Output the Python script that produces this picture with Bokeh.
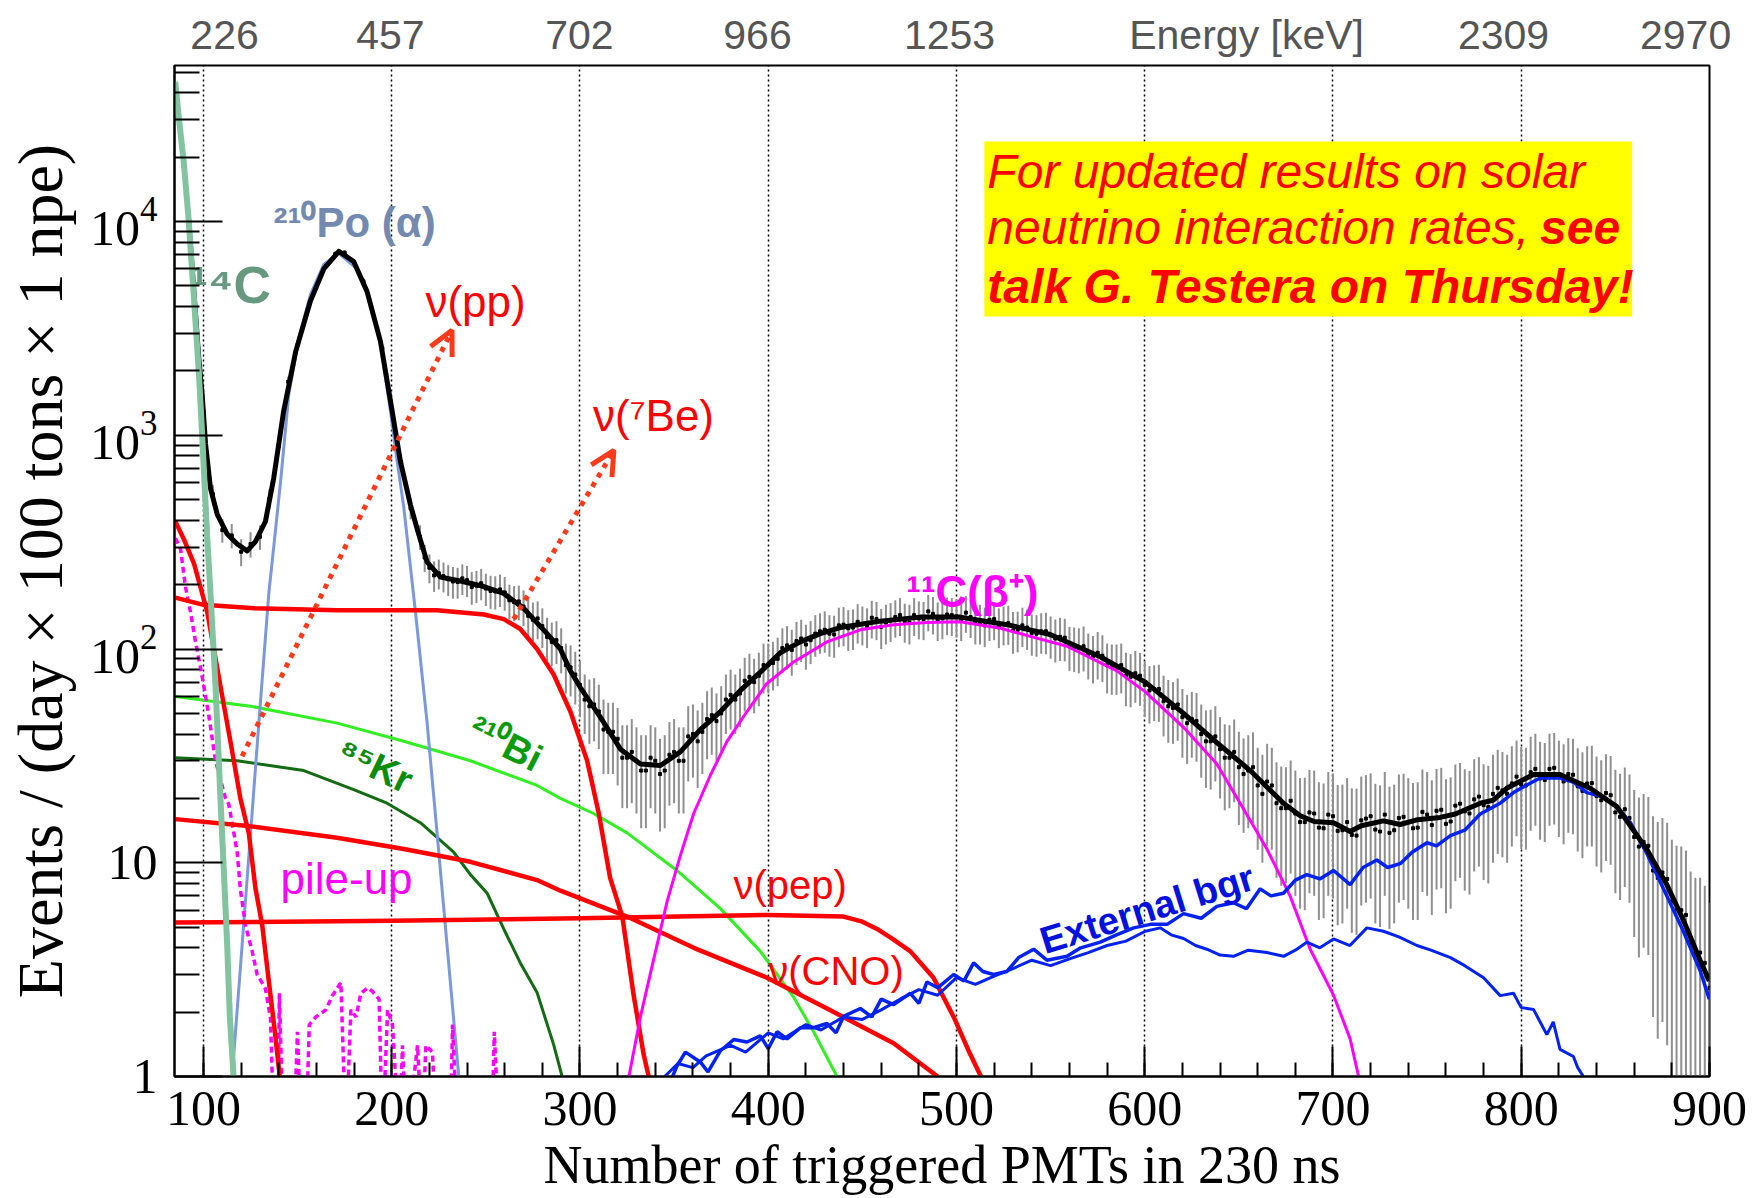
import math
from bokeh.plotting import figure
from bokeh.models import (Range1d, FixedTicker, LinearAxis, LogTickFormatter,
                          Arrow, OpenHead)
from bokeh.core.properties import value
from bokeh.embed import file_html
from bokeh.resources import INLINE

# ---------------- data ----------------
npmt = list(range(100, 901, 5))
events = [1300, 530, 360, 340, 285, 310, 335, 505, 890, 1780,
          2650, 3850, 5050, 6300, 7050, 7150, 6350, 5250, 3750, 2550,
          1330, 750, 455, 335, 240, 226, 212, 206, 210, 198,
          192, 186, 184, 166, 158, 137, 128, 108, 101, 82,
          68, 54, 51, 41, 38, 31, 30, 27, 30, 27,
          33, 30, 40, 41, 49, 50, 61, 62, 74, 75,
          84, 90, 104, 109, 105, 118, 123, 117, 130, 126,
          131, 140, 127, 136, 144, 133, 139, 150, 137, 145,
          142, 148, 133, 129, 138, 131, 122, 129, 119, 121,
          116, 114, 103, 101, 95, 96, 84, 83, 75, 77,
          68, 65, 57, 53, 48, 47, 40, 37, 34, 31,
          28, 27, 23, 24, 19, 18, 17, 15.5, 17, 14.5,
          16.5, 14.2, 13.5, 15.8, 16.5, 14, 13.8, 16.2, 15.5, 14.6,
          16.8, 17.5, 15.2, 18.5, 17.4, 19.8, 18.6, 21, 21.8, 23.5,
          23.2, 26.5, 24.8, 27.5, 25.2, 26, 22.8, 23.5, 20.5, 21.2,
          17.2, 17.8, 13.2, 12.5, 9.2, 9.0, 6.6, 6.0, 4.2, 3.8,
          2.6]
events_err = [87, 55, 46, 44, 41, 42, 44, 54, 72, 101,
              124, 149, 171, 190, 202, 203, 191, 174, 147, 121,
              88, 66, 51, 44, 37, 36, 35, 34, 35, 34,
              33, 33, 33, 31, 30, 28, 27, 25, 24, 22,
              20, 18, 17, 15, 15, 13, 13, 12.5, 13, 12.5,
              14, 13, 15, 15, 17, 17, 19, 19, 21, 21,
              22, 23, 24, 25, 25, 26, 27, 26, 27, 27,
              27, 28, 27, 28, 29, 28, 28, 29, 28, 29,
              29, 29, 28, 27, 28, 27, 27, 27, 26, 26,
              26, 26, 24, 24, 23, 24, 22, 22, 21, 21,
              20, 19, 18, 17, 17, 16, 15, 15, 14, 13,
              13, 12.5, 11.5, 12, 10.5, 10, 10, 9.5, 10, 9,
              9.7, 9, 8.8, 9.5, 9.7, 9, 8.9, 9.7, 9.4, 9.2,
              9.8, 10, 9.4, 10.3, 10, 10.7, 10.3, 11, 11.2, 11.6,
              11.6, 12.4, 12, 12.6, 12, 12.2, 11.5, 11.6, 10.9, 11,
              10, 10.1, 8.7, 8.5, 7.3, 7.2, 6.2, 5.9, 4.9, 4.7,
              3.9]

# intermediate bins (217.5 ... 897.5)
npmt_mid = [v + 2.5 for v in range(215, 896, 5)]
events_mid = [268, 221, 219, 207, 214, 195, 203, 187, 190, 169,
              167, 143, 139, 114, 110, 84, 76, 58, 55, 42,
              41, 31, 33, 27, 31, 26, 32, 30, 39, 37,
              47, 46, 58, 58, 71, 70, 84, 86, 101, 99,
              112, 110, 121, 118, 129, 125, 134, 128, 138, 133,
              141, 135, 144, 138, 146, 139, 144, 137, 141, 133,
              137, 128, 132, 123, 126, 118, 121, 112, 113, 102,
              103, 92, 93, 83, 84, 74, 75, 64, 65, 54,
              55, 45, 46, 37, 39, 31, 33, 26, 28, 21,
              23, 18, 19.5, 15.5, 17.2, 14.6, 16.8, 14.1, 15.5, 13.4,
              16.1, 14.3, 16.8, 14.2, 16.4, 14.5, 17.3, 15, 17.7, 15.6,
              18.9, 17, 20.4, 18.2, 22.4, 21, 25.3, 23, 27.5, 24.4,
              27.8, 24, 25.8, 21.7, 23.6, 19.6, 20.7, 16.4, 16.2, 11.9,
              12, 8.5, 8.4, 6.1, 5.7, 3.8, 3.4]
events_mid_err = [39, 36, 35, 35, 35, 34, 34, 33, 33, 31,
                  31, 29, 28, 26, 25, 22, 21, 18, 18, 16,
                  15, 13, 14, 12.5, 13, 12, 13.5, 13, 15, 14.6,
                  16.5, 16, 18, 18, 20, 20, 22, 22, 24, 24,
                  25, 25, 26, 26, 27, 27, 28, 27, 28, 28,
                  28, 28, 29, 28, 29, 28, 29, 28, 28.5, 28,
                  28, 27, 27.5, 26.5, 27, 26, 26.5, 25.5, 25.5, 24,
                  24.5, 23, 23, 22, 22, 20.6, 20.8, 19.2, 19.4, 17.6,
                  17.8, 16, 16.3, 14.6, 15, 13.4, 13.8, 12.2, 12.7, 11,
                  11.5, 10.2, 10.6, 9.4, 10, 9.2, 9.8, 9, 9.4, 8.8,
                  9.6, 9.1, 9.8, 9, 9.7, 9.1, 10, 9.3, 10.1, 9.5,
                  10.4, 9.9, 10.8, 10.2, 11.4, 11, 12, 11.5, 12.6, 11.9,
                  12.7, 11.8, 12.2, 11.2, 11.7, 10.6, 10.9, 9.7, 9.7, 8.3,
                  8.3, 7, 7, 5.9, 5.7, 4.7, 4.4]

fit_x = [92, 95, 97.5, 99.3, 101.1, 103.7, 107.3, 112.6, 117.9, 123.2, 127.6,
         132.9, 137.3, 142.6, 149, 156.8, 163.9, 171.9, 179.8, 186.9, 194,
         200.2, 204.6, 210, 214.3, 218.8, 225.9, 236.5, 248.9, 259.5, 270.1,
         282.5, 289.6, 294.9, 300.2, 310.8, 321.5, 332.1, 342.7, 353.3, 363.9,
         374.6, 385.2, 395.8, 406.4, 417, 427.7, 438.3, 459.5, 480.8, 502,
         526.8, 549.8, 576.4, 600.3, 620.6, 638.3, 656, 673.7, 682.6, 690,
         700.3, 709.1, 715, 726.8, 735.7, 745, 756.9, 765, 778.2, 785,
         792.3, 806.5, 820.6, 836.6, 850.8, 866.6, 877.3, 886.1, 895, 899.9]
fit_y = [10500, 4600, 2300, 1550, 910, 565, 427, 345, 310, 288, 318,
         395, 630, 1300, 2470, 4250, 6000, 7250, 6500, 4700, 2750,
         1300, 755, 470, 345, 255, 217, 208, 196, 182, 155,
         118, 100, 79, 66, 48, 34, 29, 28.5, 33, 42,
         51, 64, 78, 96, 108, 118, 126, 135, 141, 141,
         130, 117, 92, 70, 50, 36.5, 27, 19, 16.6, 15.6,
         15.4, 14, 14.9, 15.7, 15.1, 15.9, 16.3, 16.9, 19, 19.6,
         22.3, 25.9, 25.9, 22.3, 18.3, 11.6, 7.9, 5.4, 3.5, 2.8]

c14_x = [85, 87, 89.5, 92.2, 94.8, 97.5, 99.3, 102, 103.7, 106.4, 109, 110.8, 112.6, 114, 116]
c14_y = [45000, 30000, 19000, 10000, 4550, 2000, 1000, 330, 182, 67, 20, 9.2, 4.1, 1.9, 1.0]

po_x = [115.2, 120.5, 125, 129.4, 134.7, 140.9, 145.3, 150.6, 156.8, 163.9, 171.9,
        181.6, 188.7, 194, 199.3, 202.9, 206.4, 212.6, 218.8, 224.1, 229.4, 235.6]
po_y = [1, 4.1, 13.7, 45, 182, 600, 1550, 2850, 4550, 6300, 7100,
        6000, 4250, 2680, 1300, 755, 460, 149, 45, 13.7, 4.1, 1]

pp_x = [85, 90, 95, 102, 109, 114.3, 119.6, 124.1, 127.6, 131.2, 134.7, 138.2, 140.5]
pp_y = [396, 320, 250, 149, 67, 37, 20, 13.7, 7.6, 5.1, 2.8, 1.54, 1.0]

be7_x = [85, 100, 127, 171, 224, 249, 259.5, 268.3, 277.2, 286, 294.9, 303.8, 310, 316,
         322.5, 328.5, 333.8, 336.5]
be7_y = [174, 161, 155, 152, 152, 145, 138, 124, 100, 76, 51, 30, 17, 8.5,
         5.6, 2.4, 1.27, 1.0]

pep_x = [85, 200, 300, 400, 440, 450, 457.8, 466, 475.5, 487.8, 498.5, 507.3, 513]
pep_y = [5.25, 5.35, 5.5, 5.7, 5.6, 5.3, 4.9, 4.4, 3.85, 2.9, 1.9, 1.27, 1.0]

cno_x = [85, 125, 171, 206.4, 241.8, 277.2, 289.6, 325, 360.4, 399.3, 431.2, 466.6, 490]
cno_y = [16, 14.8, 13.1, 11.6, 10.1, 8.3, 7.4, 5.6, 4.0, 2.9, 2.08, 1.43, 1.0]

bi_x = [85, 125, 171, 206.4, 241.8, 277.2, 289.6, 307.2, 325, 351.5, 374.6, 395.8, 413.5, 424.1, 436.5]
bi_y = [60, 54, 45, 37, 30, 23, 20, 17, 13.8, 9.2, 6.1, 3.85, 2.35, 1.62, 1.0]

kr_x = [85, 117.9, 153.3, 179.8, 197.5, 215.2, 232.9, 241.8, 250.7, 259.5, 268.3, 277.2, 286, 290.5]
kr_y = [31, 30, 27, 22, 19, 15.4, 11.2, 8.8, 7.2, 4.9, 3.4, 2.47, 1.41, 1.0]

c11_x = [326, 332.1, 339.2, 346.3, 353.3, 360.4, 369.2, 378.1, 388.7, 399.3, 413.5, 431.2,
         448.9, 466.6, 484.3, 502, 523.3, 558.7, 585.2, 600.3, 620.6, 638.3, 650.7, 664.9,
         677.2, 687.9, 700.3, 709.1, 713.6]
c11_y = [1, 1.9, 3.55, 6.6, 10.8, 17, 25.6, 37, 51, 69, 87, 108,
         123, 130, 133, 134, 125, 103, 79, 63, 43, 29, 19, 11.6,
         7.0, 3.94, 2.4, 1.5, 1]

pileup_x = [85.1, 87.8, 90.4, 93.1, 95.8, 98.4, 100.2, 102.8, 106.4, 111.7,
            113.4, 115.2, 117.9, 119.6, 122.3, 125.9, 128.5, 132.9, 135.6, 137.5,
            139.5, 140.3, 142.5, 148, 149.9, 152, 154.4, 156.2, 159.7, 165,
            168.6, 173, 175.7, 178.3, 181, 183.6, 187.2, 189.8, 193.3, 195.1,
            197.8, 200.4, 204, 205.7, 208, 213.7, 216.3, 218.1, 221.6, 224,
            231, 232.3, 235, 253, 254.5, 257]
pileup_y = [330, 294, 196, 149, 108, 82, 67, 49, 30, 20,
            18.8, 15.4, 11.2, 7.5, 5.1, 3.84, 3.0, 2.58, 1.87, 0.5,
            0.5, 2.45, 0.5, 0.5, 1.62, 0.5, 0.5, 1.75, 1.9, 2.05,
            2.4, 2.75, 0.5, 2.05, 1.9, 2.45, 2.6, 2.5, 2.3, 0.5,
            2.05, 1.75, 0.5, 1.4, 0.5, 1.4, 0.5, 1.4, 1.3, 0.5,
            0.5, 1.75, 0.5, 0.5, 1.62, 0.5]

ext_x = [342.7, 347, 351.5, 356, 363.9, 368, 374.6, 381.7, 388.7, 395.8,
         400, 404.7, 410, 417, 424.1, 431.2, 436, 440, 448.9, 455,
         460, 466.6, 475.5, 480, 484.3, 490, 498.5, 504, 509.1, 514,
         519.7, 526.8, 533, 541, 548, 558.7, 566, 576.4, 585, 594.1,
         603, 611.9, 620.6, 630, 638.3, 647.1, 654, 661.3, 667, 673.7,
         680, 686.1, 693, 700.3, 709.1, 716, 723.3, 729, 735.7, 742,
         749.9, 755, 762.4, 770, 778.2, 788.8, 795.9, 803, 810, 820.6,
         828, 834.8, 842, 850.8, 858, 866.6, 877.3, 886.1, 895, 899.9]
ext_y = [1.0, 0.9, 1.12, 1.3, 1.17, 1.05, 1.32, 1.49, 1.45, 1.55,
         1.35, 1.62, 1.5, 1.69, 1.69, 1.77, 1.6, 1.91, 2.08, 1.9,
         2.3, 2.17, 2.45, 2.2, 2.77, 2.6, 3.0, 2.8, 3.4, 3.1,
         3.0, 3.1, 3.6, 3.94, 3.5, 3.65, 4.0, 4.25, 4.6, 4.96,
         5.15, 5.15, 5.78, 5.5, 6.25, 6.5, 6.1, 7.55, 7.0, 7.2,
         8.3, 8.8, 8.4, 9.2, 7.9, 9.5, 10.3, 9.5, 9.9, 11.2,
         12.4, 12.0, 13.4, 14.2, 16.9, 19, 21.3, 23.1, 24.9, 24.9,
         23.8, 21.3, 20.5, 18.3, 15.4, 11.1, 7.0, 4.78, 3.13, 2.3]

ext2_x = [345, 352, 360, 367, 380, 388, 400, 408, 420, 428,
          440, 450, 460, 470, 480, 490, 500, 510, 520, 530,
          540, 550, 560, 570, 580, 590, 600.3, 608.2, 614, 620.6,
          627, 633, 640, 647.1, 655, 664.9, 673.7, 680, 686.1, 693,
          700.3, 709, 718, 726.8, 735, 744.6, 752, 762.4, 770, 780,
          788.8, 795.9, 800, 806.5, 813.6, 817, 820.6, 827.7, 830, 833]
ext2_y = [1.0, 1.15, 1.1, 1.25, 1.4, 1.3, 1.6, 1.5, 1.75, 1.65,
          1.9, 1.85, 2.05, 2.3, 2.55, 2.4, 2.9, 2.7, 2.95, 3.2,
          3.5, 3.3, 3.55, 3.8, 4.1, 4.3, 4.78, 4.96, 4.6, 4.42,
          4.1, 3.94, 3.7, 3.65, 3.9, 3.8, 3.65, 3.9, 4.25, 4.0,
          4.4, 4.1, 4.96, 4.78, 4.5, 4.1, 3.9, 3.6, 3.3, 2.9,
          2.39, 2.45, 2.1, 2.06, 1.57, 1.8, 1.34, 1.24, 1.1, 1.0]

# axis tick definitions
x_major = [100, 200, 300, 400, 500, 600, 700, 800, 900]
x_minor = list(range(100, 901, 20))
grid_x = [100, 200, 300, 400, 500, 600, 700, 800]
y_major = [1, 10, 100, 1000, 10000]
y_minor = [m * 10 ** e for e in range(0, 5) for m in range(2, 10)]
energy_pos = [111.2, 199.3, 299.7, 394.3, 496.3, 654.1, 790.6, 887.3]
energy_lbl = ["226", "457", "702", "966", "1253", "Energy [keV]", "2309", "2970"]

# annotation anchors (data coordinates)
arrow_pp = (120.5, 31.5, 232.0, 3100.0)
arrow_be7 = (264.8, 138.0, 318.0, 850.0)
note_box = (514.8, 858.9, 3594.0, 23660.0)

SANS = "Liberation Sans"
SERIF = "Liberation Serif"

p = figure(width=1763, height=1198, x_range=Range1d(84.6, 900), y_range=Range1d(1, 53700),
           y_axis_type="log", output_backend="svg", toolbar_location=None,
           min_border_left=174, min_border_right=54, min_border_top=65, min_border_bottom=122)
p.background_fill_color = "white"
p.border_fill_color = "white"
p.outline_line_color = "black"
p.outline_line_width = 2
p.ygrid.grid_line_color = None
p.xgrid.ticker = FixedTicker(ticks=grid_x)
p.xgrid.grid_line_color = "black"
p.xgrid.grid_line_dash = "2 3"
p.xgrid.grid_line_width = 1.5

xa = p.xaxis[0]
xa.ticker = FixedTicker(ticks=x_major, minor_ticks=x_minor)
xa.major_tick_in = 30
xa.major_tick_out = 0
xa.minor_tick_in = 14
xa.minor_tick_out = 0
xa.major_tick_line_width = 2
xa.minor_tick_line_width = 2
xa.axis_line_width = 2
xa.major_label_text_font = SERIF
xa.major_label_text_font_size = "50px"
xa.major_label_text_color = "black"
xa.major_label_standoff = 15
xa.axis_label = "Number of triggered PMTs in 230 ns"
xa.axis_label_text_font = SERIF
xa.axis_label_text_font_size = "54px"
xa.axis_label_text_font_style = "normal"
xa.axis_label_text_color = "black"
xa.axis_label_standoff = 7

ya = p.yaxis[0]
ya.ticker = FixedTicker(ticks=y_major, minor_ticks=y_minor)
ya.formatter = LogTickFormatter()
ya.major_label_overrides = {1: "1", 10: "10"}
ya.major_tick_in = 48
ya.major_tick_out = 0
ya.minor_tick_in = 25
ya.minor_tick_out = 0
ya.major_tick_line_width = 2
ya.minor_tick_line_width = 2
ya.axis_line_width = 2
ya.major_label_text_font = SERIF
ya.major_label_text_font_size = "50px"
ya.major_label_text_color = "black"
ya.major_label_standoff = 17
ya.axis_label = "Events / (day \u00d7 100 tons \u00d7 1 npe)"
ya.axis_label_text_font = SERIF
ya.axis_label_text_font_size = "64px"
ya.axis_label_text_font_style = "normal"
ya.axis_label_text_color = "black"
ya.axis_label_standoff = 11

top = LinearAxis(ticker=FixedTicker(ticks=energy_pos),
                 major_label_overrides=dict(zip(energy_pos, energy_lbl)),
                 major_tick_in=0, major_tick_out=0, minor_tick_in=0, minor_tick_out=0,
                 axis_line_color=None, major_label_text_font=SANS,
                 major_label_text_font_size="41px", major_label_text_color="#555555",
                 major_label_standoff=8)
p.add_layout(top, "above")


def put_text(t, x, y, color, size, style="normal", angle=0.0, align="left",
             baseline="alphabetic", font=SANS):
    p.text(x=[x], y=[y], text=[t], text_font=value(font), text_font_size=value(size),
           text_font_style=style, text_color=color, angle=angle,
           text_align=align, text_baseline=baseline)


# yellow note
bl, br, bb, bt = note_box
p.quad(left=[bl], right=[br], bottom=[bb], top=[bt], fill_color="#ffff00",
       line_color=None)
put_text("For updated results on solar", 516.4, 17050, "#ff0000", "48px", "italic")
put_text("neutrino interaction rates,", 516.4, 9373, "#ff0000", "48px", "italic")
put_text("see", 810.0, 9373, "#ff0000", "48px", "bold italic")
put_text("talk G. Testera on Thursday!", 516.4, 4966, "#ff0000", "48px", "bold italic")

# 14C label sits beneath the curves
put_text("\u00b9\u2074C", 93.1, 5025, "#669980", "52px", "bold")

# data with error bars
all_x = npmt + npmt_mid
all_y = events + events_mid
all_e = events_err + events_mid_err
lo = [max(v - e, 0.3) for v, e in zip(all_y, all_e)]
hi = [v + e for v, e in zip(all_y, all_e)]
p.segment(x0=all_x, y0=lo, x1=all_x, y1=hi, line_color="#8f8f8f", line_width=2)
p.scatter(x=all_x, y=all_y, marker="square", size=3, color="black")

# components
p.line(bi_x, bi_y, line_color="#33ee22", line_width=3)
p.line(kr_x, kr_y, line_color="#136b13", line_width=3)
p.line(po_x, po_y, line_color="#7a98da", line_width=3)
p.line(pileup_x, pileup_y, line_color="#ff00ff", line_width=3.5, line_dash="6 4")
p.line(cno_x, cno_y, line_color="#ff0000", line_width=4.5, line_join="round")
p.line(pep_x, pep_y, line_color="#ff0000", line_width=4.5, line_join="round")
p.line(pp_x, pp_y, line_color="#ff0000", line_width=4.5, line_join="round")
p.line(be7_x, be7_y, line_color="#ff0000", line_width=4.5, line_join="round")
p.line(c11_x, c11_y, line_color="#ff00ff", line_width=3)
p.line(ext2_x, ext2_y, line_color="#0022ee", line_width=3)
p.line(ext_x, ext_y, line_color="#0022ee", line_width=3.5)
p.line(fit_x, fit_y, line_color="black", line_width=5, line_join="round")
p.line(c14_x, c14_y, line_color="#82c3a0", line_width=6)

# arrows
for (x0, y0, x1, y1) in (arrow_pp, arrow_be7):
    p.add_layout(Arrow(x_start=x0, y_start=y0, x_end=x1, y_end=y1,
                       line_color="#ff3a1a", line_width=5, line_dash="5 6",
                       end=OpenHead(size=24, line_width=5, line_color="#ff3a1a")))

# labels
put_text("\u00b2\u00b9\u2070Po (\u03b1)", 137.2, 9884, "#7389b0", "42px", "bold")
put_text("\u03bd(pp)", 217.9, 4225, "#ff0000", "44px")
put_text("\u03bd(\u2077Be)", 306.9, 1241, "#ff0000", "44px")
put_text("\u00b9\u00b9C(\u03b2\u207a)", 473.3, 185, "#ff00ff", "44px", "bold")
put_text("\u00b2\u00b9\u2070Bi", 260.4, 36.1, "#0a9a0a", "38px", "bold", -0.47, "center", "middle")
put_text("\u2078\u2075Kr", 191.3, 28.5, "#0c8c0c", "38px", "bold", -0.45, "center", "middle")
put_text("pile-up", 140.9, 8.43, "#ff00ff", "44px")
put_text("\u03bd(pep)", 381.5, 7.91, "#ff0000", "40px")
put_text("\u03bd(CNO)", 400.0, 3.10, "#ff0000", "40px")
put_text("External bgr", 601.3, 6.08, "#0011dd", "38px", "bold", 0.30, "center", "middle")

open("out.html", "w").write(file_html(p, INLINE))
